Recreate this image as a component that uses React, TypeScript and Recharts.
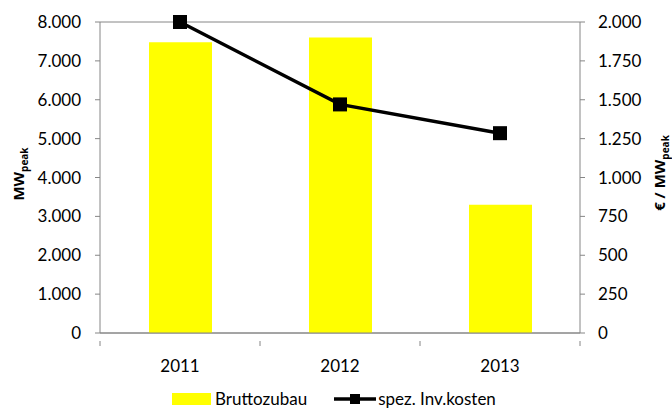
import React from 'react';
import { ComposedChart, Bar, Line, XAxis, YAxis, CartesianGrid } from 'recharts';

const years = ['2011', '2012', '2013'];
const bruttozubau = [7480, 7600, 3300];
const invKosten = [2000, 1470, 1285];
const leftTicks = [0, 1000, 2000, 3000, 4000, 5000, 6000, 7000, 8000];
const rightTicks = [0, 250, 500, 750, 1000, 1250, 1500, 1750, 2000];
const seriesNames = ['Bruttozubau', 'spez. Inv.kosten'];

const data = years.map((year, i) => ({
  year,
  brutto: bruttozubau[i],
  kosten: invKosten[i],
}));

const FONT = 'Lato, "Open Sans", sans-serif';
const AXIS_GRAY = '#868686';
const fmt = (v: number) => v.toLocaleString('de-DE');

const YearTick = (props: any) => {
  const { x, y, payload, index } = props;
  const band = 480 / years.length;
  return (
    <g>
      <line x1={x - band / 2} y1={y} x2={x - band / 2} y2={y + 5} stroke={AXIS_GRAY} />
      {index === years.length - 1 && (
        <line x1={x + band / 2} y1={y} x2={x + band / 2} y2={y + 5} stroke={AXIS_GRAY} />
      )}
      <text x={x} y={y + 31} textAnchor="middle" fontSize={17} fontFamily={FONT} fill="#000">
        {payload.value}
      </text>
    </g>
  );
};

const SquareDot = (props: any) => {
  const { cx, cy, index } = props;
  return <rect key={`dot-${index}`} x={cx - 7} y={cy - 7} width={14} height={14} fill="#000" />;
};

const AxisTitle = ({ x, y, prefix }: { x: number; y: number; prefix: string }) => (
  <text
    x={x}
    y={y}
    transform={`rotate(-90, ${x}, ${y})`}
    textAnchor="middle"
    fontFamily={'"Open Sans", Lato, sans-serif'}
    fontWeight={700}
    fontSize={15}
    fill="#000"
  >
    {prefix}MW
    <tspan fontSize={10} dy={4}>peak</tspan>
  </text>
);

const App: React.FC = () => {
  return (
    <div style={{ position: 'absolute', left: 0, top: 0, width: 672, height: 409, background: '#fff' }}>
      <ComposedChart
        width={672}
        height={409}
        data={data}
        margin={{ top: 22, right: 0, bottom: 0, left: 0 }}
      >
        <CartesianGrid vertical={false} stroke={AXIS_GRAY} strokeWidth={1} />
        <XAxis
          dataKey="year"
          height={76}
          axisLine={{ stroke: AXIS_GRAY }}
          tickLine={false}
          tick={<YearTick />}
          interval={0}
        />
        <YAxis
          yAxisId="left"
          width={100}
          domain={[0, 8000]}
          ticks={leftTicks}
          tickFormatter={fmt}
          axisLine={{ stroke: AXIS_GRAY }}
          tickLine={{ stroke: AXIS_GRAY }}
          tickSize={5}
          tickMargin={14}
          tick={{ fontSize: 17, fontFamily: FONT, fill: '#000' }}
          label={{ content: () => <AxisTitle x={24} y={174} prefix="" /> }}
        />
        <YAxis
          yAxisId="right"
          orientation="right"
          width={92}
          domain={[0, 2000]}
          ticks={rightTicks}
          tickFormatter={fmt}
          axisLine={{ stroke: AXIS_GRAY }}
          tickLine={{ stroke: AXIS_GRAY }}
          tickSize={5}
          tickMargin={13}
          tick={{ fontSize: 17, fontFamily: FONT, fill: '#000', textAnchor: 'start' }}
          label={{ content: () => <AxisTitle x={665} y={173} prefix="€ / " /> }}
        />
        <Bar yAxisId="left" dataKey="brutto" name={seriesNames[0]} fill="#ffff00" barSize={63} isAnimationActive={false} />
        <Line
          yAxisId="right"
          dataKey="kosten"
          name={seriesNames[1]}
          stroke="#000"
          strokeWidth={3.5}
          dot={<SquareDot />}
          activeDot={false}
          isAnimationActive={false}
        />
      </ComposedChart>
      <div
        style={{
          position: 'absolute',
          left: 172,
          top: 389,
          display: 'flex',
          alignItems: 'center',
          fontFamily: FONT,
          fontSize: 17,
          lineHeight: '20px',
          color: '#000',
          whiteSpace: 'nowrap',
        }}
      >
        <span style={{ display: 'inline-block', width: 39, height: 12, background: '#ffff00', marginRight: 4 }} />
        <span>{seriesNames[0]}</span>
        <svg width={42} height={14} style={{ marginLeft: 27, marginRight: 2 }}>
          <line x1={0} y1={7} x2={42} y2={7} stroke="#000" strokeWidth={3.5} />
          <rect x={16} y={2} width={10} height={10} fill="#000" />
        </svg>
        <span>{seriesNames[1]}</span>
      </div>
    </div>
  );
};

export default App;
